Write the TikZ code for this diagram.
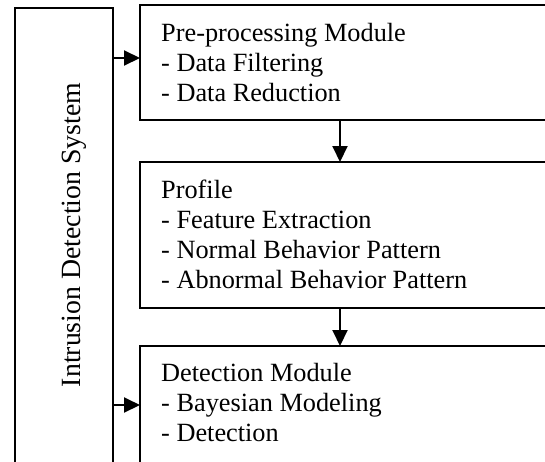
\documentclass[tikz,border=0pt]{standalone}
\usepackage{fontspec}
\setmainfont{Liberation Serif}
\usetikzlibrary{arrows.meta}
\begin{document}
\begin{tikzpicture}[x=1pt,y=-1pt,
  box/.style={draw,line width=2pt,rectangle,inner sep=0pt,outer sep=0pt,anchor=north west},
  txt/.style={anchor=base west,inner sep=0pt,align=left,font=\fontsize{26.3}{30}\selectfont},
  arr/.style={line width=2pt,-{Triangle[length=16pt,width=15pt]}}]
\useasboundingbox (0,0) rectangle (545,461);
\clip (0,0) rectangle (545,461);
\node[box,minimum width=98pt,minimum height=480pt] (ids) at (15,8) {};
\node[box,minimum width=430pt,minimum height=115pt] (pre) at (140,5) {};
\node[box,minimum width=430pt,minimum height=146pt] (prof) at (140,162) {};
\node[box,minimum width=430pt,minimum height=160pt] (det) at (140,346) {};
\node[anchor=base,rotate=90,inner sep=0pt,font=\fontsize{27.8}{30}\selectfont] (idst) at (80,235) {Intrusion Detection System};
\node[txt] (pret) at (161,101) {Pre-processing Module\\- Data Filtering\\- Data Reduction};
\node[txt] (proft) at (161,288) {Profile\\- Feature Extraction\\- Normal Behavior Pattern\\- Abnormal Behavior Pattern};
\node[txt] (dett) at (161,441) {Detection Module\\- Bayesian Modeling\\- Detection};
\coordinate (a1) at (0,58);
\coordinate (a2) at (0,405);
\coordinate (vx) at (340,0);
\draw[arr] (ids.east |- a1) -- (pre.west |- a1);
\draw[arr] (ids.east |- a2) -- (det.west |- a2);
\draw[arr] (pre.south -| vx) -- (prof.north -| vx);
\draw[arr] (prof.south -| vx) -- (det.north -| vx);
\end{tikzpicture}
\end{document}
